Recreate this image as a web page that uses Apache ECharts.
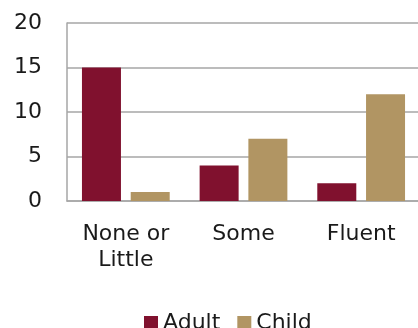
<!DOCTYPE html>
<html>
<head>
<meta charset="utf-8">
<script src="https://cdn.jsdelivr.net/npm/echarts@6/dist/echarts.min.js"></script>
<style>
  html, body { margin: 0; padding: 0; background: #ffffff; }
  #chart { width: 418px; height: 328px; }
</style>
</head>
<body>
<div id="chart"></div>
<script>
// Language proficiency by group
const categories = ['None or\nLittle', 'Some', 'Fluent'];
const adultValues = [15, 4, 2];
const childValues = [1, 7, 12];
const yTicks = [0, 5, 10, 15, 20];

const FONT = 'DejaVu Sans';
const GRID_COLOR = '#A6A6A6';

const chart = echarts.init(document.getElementById('chart'), null, { renderer: 'canvas' });

chart.setOption({
  animation: false,
  backgroundColor: '#ffffff',
  textStyle: { fontFamily: FONT },
  grid: {
    left: 67,
    top: 23,
    width: 353,
    height: 178,
    outerBoundsMode: 'none',
    containLabel: false
  },
  legend: {
    left: 139,
    top: 307,
    itemWidth: 14,
    itemHeight: 14,
    itemGap: 17,
    icon: 'rect',
    textStyle: { fontFamily: FONT, fontSize: 22, color: '#1a1a1a', padding: [0, 0, 0, 0] },
    data: ['Adult', 'Child']
  },
  xAxis: {
    type: 'category',
    data: categories,
    axisLine: { show: true, lineStyle: { color: GRID_COLOR, width: 1.5 } },
    axisTick: { show: false },
    axisLabel: {
      fontFamily: FONT,
      fontSize: 22,
      color: '#1a1a1a',
      margin: 20,
      lineHeight: 26,
      interval: 0
    }
  },
  yAxis: {
    type: 'value',
    min: yTicks[0],
    max: yTicks[yTicks.length - 1],
    interval: yTicks[1] - yTicks[0],
    axisLine: { show: true, lineStyle: { color: GRID_COLOR, width: 1.5 } },
    axisTick: { show: false },
    splitLine: { show: true, lineStyle: { color: GRID_COLOR, width: 1.5 } },
    axisLabel: {
      fontFamily: FONT,
      fontSize: 22,
      color: '#1a1a1a',
      margin: 25
    }
  },
  series: [
    {
      name: 'Adult',
      type: 'bar',
      data: adultValues,
      barWidth: 39,
      barGap: '25%',
      itemStyle: { color: '#80112E' }
    },
    {
      name: 'Child',
      type: 'bar',
      data: childValues,
      barWidth: 39,
      itemStyle: { color: '#B19563' }
    }
  ]
});
</script>
</body>
</html>
